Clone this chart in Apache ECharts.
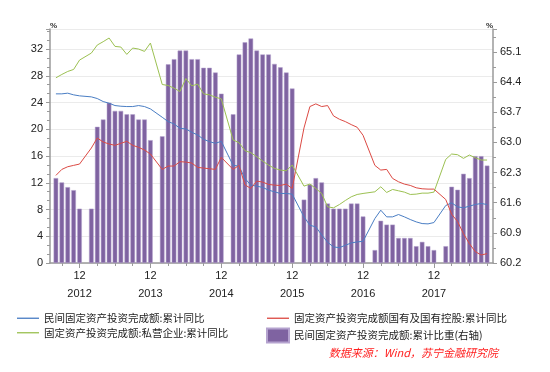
<!DOCTYPE html>
<html>
<head>
<meta charset="utf-8">
<script src="https://cdn.jsdelivr.net/npm/echarts@6/dist/echarts.min.js"></script>
<style>
html,body{margin:0;padding:0;background:#fff;}
#c{width:550px;height:372px;}
</style>
</head>
<body>
<div id="c"></div>
<script>
// Months shown on the axis: Jul 2012 .. Oct 2018 (data Aug 2012 .. Sep 2018, January has no data)
const firstMonth = [2012, 7];
const lastMonth = [2018, 10];

const seriesNames = [
  '民间固定资产投资完成额:累计同比',
  '固定资产投资完成额国有及国有控股:累计同比',
  '固定资产投资完成额:私营企业:累计同比',
  '民间固定资产投资完成额:累计比重(右轴)'
];

// Aug 2012 .. Sep 2018 (null = January, not published)
const privateYoY = [
  25.3, 25.3, 25.4, 25.15, 25.0,
  null, 24.85, 24.6, 24.15, 23.9, 23.55, 23.45, 23.4, 23.4, 23.55, 23.4, 23.05,
  null, 21.8, 21.15, 20.8, 20.15, 20.05, 19.55, 19.15, 18.5, 18.15, 17.9, 18.2,
  null, 14.6, 14.5, 12.65, 11.65, 11.5, 11.3, 10.9, 10.65, 10.4, 10.4, 10.3,
  null, 6.9, 5.65, 5.4, 4.2, 3.1, 2.4, 2.3, 2.65, 3.0, 3.15, 3.25,
  null, 6.65, 7.9, 6.9, 6.9, 7.25, 6.9, 6.5, 6.15, 5.9, 5.85, 6.05,
  null, 8.6, 9.0, 8.4, 8.25, 8.5, 8.75, 8.9, 8.75
];
const stateYoY = [
  13.1, 14.0, 14.4, 14.6, 14.8,
  null, 17.2, 18.7, 18.1, 17.8, 17.6, 17.9, 18.2, 17.6, 17.3, 16.9, 16.3,
  null, 14.0, 14.5, 14.5, 15.15, 15.1, 14.95, 14.3, 14.2, 14.1, 14.0, 15.8,
  null, 14.0, 14.6, 11.7, 11.15, 12.25, 12.1, 11.75, 11.65, 11.6, 11.8, 11.15,
  null, 20.2, 23.4, 23.8, 23.4, 23.55, 22.0, 21.5, 21.15, 20.7, 20.3, 19.1,
  null, 14.6, 13.9, 14.0, 12.65, 12.15, 11.8, 11.6, 11.25, 11.1, 11.05, 11.05,
  null, 9.5, 7.3, 6.2, 4.4, 2.9, 1.7, 1.2, 1.4
];
const privEntYoY = [
  27.7, 28.2, 28.65, 28.95, 30.35,
  null, 31.4, 32.6, 33.1, 33.65, 32.4, 32.3, 31.2, 32.15, 32.0, 31.65, 32.9,
  null, 26.7, 26.55, 26.15, 25.65, 27.6, 26.5, 26.75, 25.3, 25.15, 24.8, 24.55,
  null, 18.4, 18.0, 16.8, 16.5, 15.9, 15.25, 14.65, 14.15, 13.9, 13.8, 14.65,
  null, 11.5, 11.8, 11.15, 10.4, 8.4, 8.25, 8.75, 9.35, 9.9, 10.25, 10.4,
  null, 10.65, 11.4, 10.55, 11.0, 10.8, 10.6, 10.25, 10.3, 10.45, 10.45, 10.6,
  null, 15.5, 16.3, 16.2, 15.65, 16.15, 15.75, 15.4, 15.4
];
const privateShare = [
  62.17, 62.07, 61.96, 61.89, 61.46,
  null, 61.46, 63.36, 63.53, 63.92, 63.73, 63.73, 63.65, 63.65, 63.53, 63.53, 63.05,
  null, 63.14, 64.81, 64.93, 65.13, 65.13, 64.93, 64.93, 64.73, 64.73, 64.62, 64.13,
  null, 63.65, 65.04, 65.32, 65.41, 65.13, 65.04, 65.04, 64.82, 64.74, 64.62, 64.25,
  null, 61.67, 62.02, 62.17, 62.07, 61.58, 61.46, 61.46, 61.46, 61.58, 61.58, 61.28,
  null, 60.50, 61.18, 61.09, 61.09, 60.78, 60.78, 60.78, 60.59, 60.69, 60.59, 60.50,
  null, 60.59, 61.97, 61.90, 62.27, 62.17, 62.68, 62.68, 62.46
];

const leftTicks = { min: 0, max: 35, interval: 4 };
const rightTicks = { min: 60.2, max: 65.63, interval: 0.7 };
const sourceText = '数据来源：Wind，苏宁金融研究院';

// build month categories
const categories = [];
for (let y = firstMonth[0], m = firstMonth[1]; y < lastMonth[0] || (y === lastMonth[0] && m <= lastMonth[1]); ) {
  categories.push(y + '-' + (m < 10 ? '0' + m : m));
  m++; if (m > 12) { m = 1; y++; }
}
const pad = arr => [null].concat(arr, [null]);
const monthOf = v => parseInt(v.split('-')[1], 10);

const chart = echarts.init(document.getElementById('c'), null, {renderer: 'canvas'});
const axisGray = '#9a9a9a';
const txt = '#222';
const fontFam = '"Liberation Sans", Arial, sans-serif';
const cjkFam = '"Noto Sans CJK SC", "Liberation Sans", sans-serif';
const lineIcon = 'path://M0,0L100,0L100,6L0,6Z';

chart.setOption({
  animation: false,
  backgroundColor: '#fff',
  grid: { left: 50, right: 57, top: 29, bottom: 109, containLabel: false },
  xAxis: [{
    type: 'category',
    data: categories,
    boundaryGap: false,
    axisLine: { lineStyle: { color: axisGray, width: 1.5 } },
    axisTick: { show: true, length: 3, interval: (i, v) => monthOf(v) % 3 === 0, lineStyle: { color: axisGray } },
    axisLabel: {
      interval: (i, v) => monthOf(v) === 12,
      formatter: v => '12\n' + v.split('-')[0],
      color: txt, fontSize: 11, fontFamily: fontFam, lineHeight: 18, margin: 4
    },
    splitLine: { show: false }
  }, {
    type: 'category',
    data: categories,
    boundaryGap: false,
    position: 'bottom',
    axisLine: { show: false },
    axisTick: { show: true, length: 5, interval: (i, v) => monthOf(v) === 12, lineStyle: { color: axisGray } },
    axisLabel: { show: false },
    splitLine: { show: false }
  }],
  yAxis: [{
    type: 'value',
    min: leftTicks.min, max: leftTicks.max, interval: leftTicks.interval,
    name: '%', nameLocation: 'end', nameGap: -1,
    nameTextStyle: { fontSize: 8, fontWeight: 'bold', color: '#333', align: 'left' },
    axisLine: { show: true, lineStyle: { color: axisGray, width: 1.5 } },
    axisTick: { show: true, length: 4, lineStyle: { color: axisGray } },
    minorTick: { show: true, splitNumber: 3, length: 3, lineStyle: { color: axisGray } },
    axisLabel: { color: txt, fontSize: 11, fontFamily: fontFam, margin: 7, showMaxLabel: false },
    splitLine: { show: true, lineStyle: { color: '#ebebeb', width: 1 } }
  }, {
    type: 'value',
    position: 'right',
    min: rightTicks.min, max: rightTicks.max, interval: rightTicks.interval,
    startValue: rightTicks.min,
    name: '%', nameLocation: 'end', nameGap: -1,
    nameTextStyle: { fontSize: 8, fontWeight: 'bold', color: '#333', align: 'right' },
    axisLine: { show: true, lineStyle: { color: axisGray, width: 1.5 } },
    axisTick: { show: true, length: 4, lineStyle: { color: axisGray } },
    minorTick: { show: true, splitNumber: 2, length: 3, lineStyle: { color: axisGray } },
    axisLabel: { color: txt, fontSize: 11, fontFamily: fontFam, margin: 7, showMaxLabel: false, formatter: v => v.toFixed(1) },
    splitLine: { show: false }
  }],
  legend: [{
    left: 12, top: 308, orient: 'vertical', itemGap: 4, itemWidth: 22, itemHeight: 14,
    symbolKeepAspect: true,
    textStyle: { fontSize: 10.5, color: txt, fontFamily: cjkFam },
    data: [{ name: seriesNames[0], icon: lineIcon }, { name: seriesNames[2], icon: lineIcon }]
  }, {
    left: 261, top: 308, orient: 'vertical', itemGap: 4, itemWidth: 22, itemHeight: 14,
    symbolKeepAspect: true,
    textStyle: { fontSize: 10.5, color: txt, fontFamily: cjkFam },
    data: [{ name: seriesNames[1], icon: lineIcon }, { name: seriesNames[3], icon: 'rect' }]
  }],
  graphic: [{
    type: 'text', right: 52, top: 347,
    style: { text: sourceText, fill: '#ff2020', font: 'italic 11px "Noto Sans CJK SC", sans-serif' }
  }],
  series: [{
    name: seriesNames[3], type: 'bar', xAxisIndex: 0, yAxisIndex: 1,
    data: pad(privateShare), barWidth: 4.6, z: 1,
    itemStyle: { color: '#7f63a1', borderColor: '#b5a3cf', borderWidth: 0.5 }
  }, {
    name: seriesNames[0], type: 'line', yAxisIndex: 0, data: pad(privateYoY),
    symbol: 'none', connectNulls: true, z: 3,
    lineStyle: { color: '#4a7ec4', width: 1 }, itemStyle: { color: '#4a7ec4' }
  }, {
    name: seriesNames[1], type: 'line', yAxisIndex: 0, data: pad(stateYoY),
    symbol: 'none', connectNulls: true, z: 3,
    lineStyle: { color: '#dc4a44', width: 1 }, itemStyle: { color: '#dc4a44' }
  }, {
    name: seriesNames[2], type: 'line', yAxisIndex: 0, data: pad(privEntYoY),
    symbol: 'none', connectNulls: true, z: 3,
    lineStyle: { color: '#9cc152', width: 1 }, itemStyle: { color: '#9cc152' }
  }]
});
</script>
</body>
</html>
